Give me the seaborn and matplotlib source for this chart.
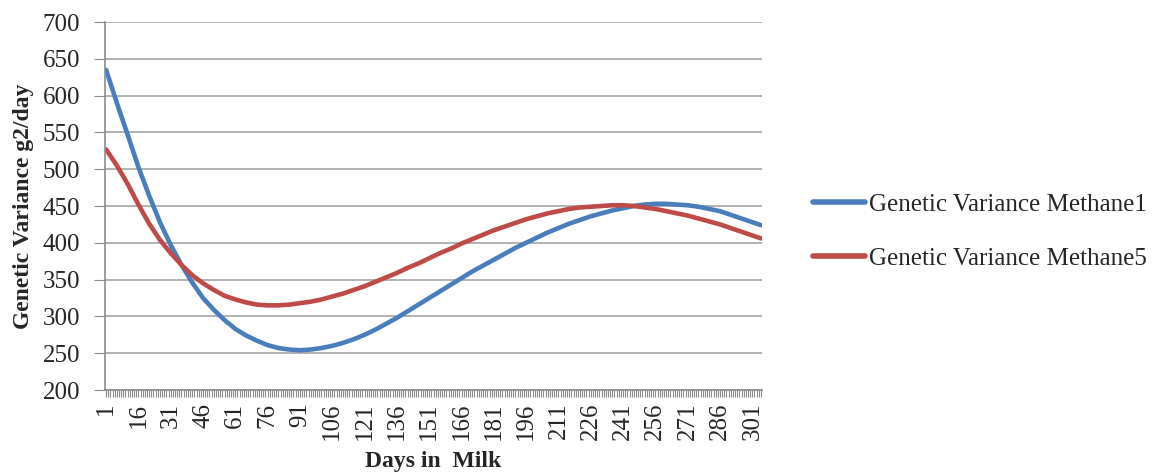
import numpy as np
import pandas as pd
import matplotlib.pyplot as plt
import seaborn as sns
from matplotlib.ticker import FixedLocator

# values every 5 days
days = [1, 6, 11, 16, 21, 26, 31, 36, 41, 46, 51, 56, 61, 66, 71, 76, 81, 86, 91, 96,
        101, 106, 111, 116, 121, 126, 131, 136, 141, 146, 151, 156, 161, 166, 171, 176,
        181, 186, 191, 196, 201, 206, 211, 216, 221, 226, 231, 236, 241, 246, 251, 256,
        261, 266, 271, 276, 281, 286, 291, 296, 301, 305]
methane1 = [635, 590, 547, 503, 464, 428, 397, 370, 346, 325, 309, 295, 283, 274, 267, 261,
            257, 255, 254, 255, 257, 260, 264, 269, 275, 282, 290, 298, 307, 316, 325, 334,
            343, 352, 361, 369, 377, 385, 393, 400, 407, 414, 420, 426, 431, 436, 440, 444,
            447, 450, 452, 453, 453, 452, 451, 449, 446, 443, 438, 433, 428, 424]
methane5 = [527, 505, 480, 452, 426, 404, 386, 370, 356, 345, 336, 328, 323, 319, 316, 315,
            315, 316, 318, 320, 323, 327, 331, 336, 341, 347, 353, 359, 366, 372, 379, 386,
            392, 399, 405, 411, 417, 422, 427, 432, 436, 440, 443, 446, 448, 449, 450, 451,
            451, 450, 448, 446, 443, 440, 437, 433, 429, 425, 420, 415, 410, 406]
series_names = ["Genetic Variance Methane1", "Genetic Variance Methane5"]
n_days = 305

df = pd.DataFrame({
    "day": days * 2,
    "value": methane1 + methane5,
    "series": [series_names[0]] * len(days) + [series_names[1]] * len(days),
})

sns.set_style("white")
plt.rcParams["font.family"] = ["Liberation Serif", "DejaVu Serif"]

fig = plt.figure(figsize=(11.58, 4.73), dpi=100)
ax = fig.add_axes([105 / 1158, 1 - 390 / 473, 657 / 1158, 368 / 473])

sns.lineplot(data=df, x="day", y="value", hue="series",
             palette=["#4A7EBB", "#BE4B48"], linewidth=3.3, ax=ax)

ax.set_xlim(0.5, n_days + 0.5)
ax.set_ylim(200, 700)
ax.set_yticks(range(200, 701, 50))
ax.tick_params(axis="y", labelsize=18, length=8, color="#8c8c8c", pad=10, left=True)
ax.yaxis.grid(True, color="#a6a6a6", linewidth=1.2)
ax.set_axisbelow(True)

ax.set_xticks(range(1, n_days + 1, 15))
ax.xaxis.set_minor_locator(FixedLocator(range(1, n_days + 1)))
ax.tick_params(axis="x", which="both", length=5, color="#8c8c8c", width=0.8,
               bottom=True, labelsize=18, labelrotation=90, pad=4)

for side in ["top", "right"]:
    ax.spines[side].set_visible(False)
for side in ["left", "bottom"]:
    ax.spines[side].set_color("#8c8c8c")
    ax.spines[side].set_linewidth(1.2)

ax.set_xlabel("Days in  Milk", fontsize=17, fontweight="bold", labelpad=8)
ax.set_ylabel("Genetic Variance g2/day", fontsize=17, fontweight="bold", labelpad=6)

leg = ax.legend(loc="center left", bbox_to_anchor=(1.043, 0.43), frameon=False,
                fontsize=18, handlelength=2.1, handletextpad=0.15, labelspacing=1.25)
for line in leg.get_lines():
    line.set_linewidth(4)

fig.savefig("out.png", dpi=100)
